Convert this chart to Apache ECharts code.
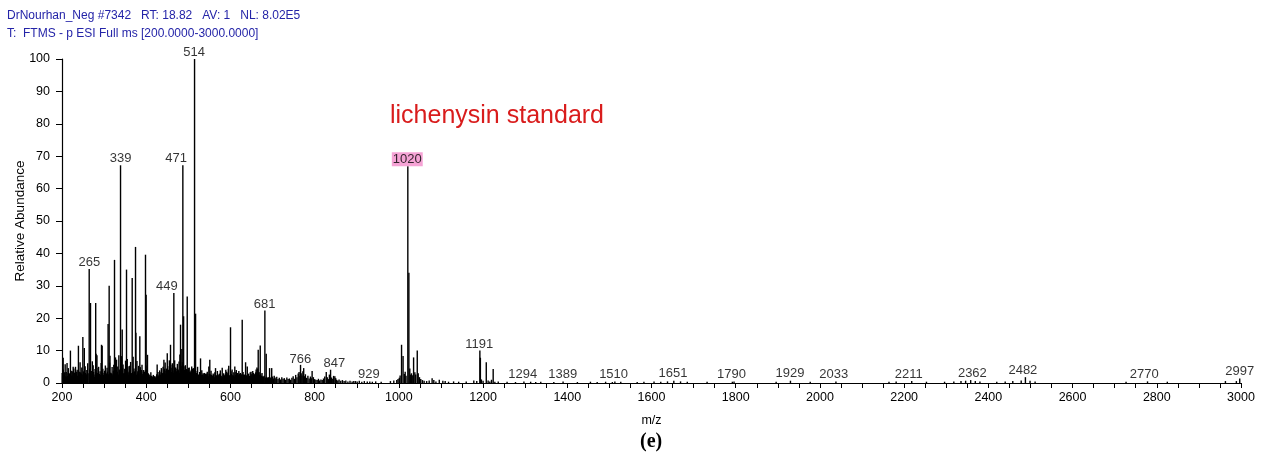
<!DOCTYPE html>
<html>
<head>
<meta charset="utf-8">
<script src="https://cdn.jsdelivr.net/npm/echarts@6/dist/echarts.min.js"></script>
<style>
html,body{margin:0;padding:0;background:#fff;}
#chart{width:1267px;height:457px;}
</style>
</head>
<body>
<div id="chart"></div>
<script>
// ---- Data: [m/z, relative abundance %] ----
// Major peaks
const majorPeaks = [[202.8,7.8],[212,6.2],[220,10],[226.5,5],[232,5],[239,11.5],[249.5,14.2],[253,10.8],[264.6,35.2],[267.7,24.7],[272,6.7],[280,24.7],[281,9],[293.8,11.8],[295.4,11.5],[309.5,18.2],[312,30],[314,8.4],[324.7,38],[329.5,7.2],[335,8.6],[339,67.2],[343,16.5],[353.2,35],[361,5.3],[366.7,32.4],[374.6,42],[375.5,15.5],[384.8,14.4],[398.3,39.6],[399.8,27.2],[403,8.7],[426,5.7],[442,7.2],[450,9.2],[457.7,11.8],[465.6,27.8],[467.5,7],[481.5,18],[484.6,10.5],[487,67.2],[488.8,20.6],[497.4,26.7],[499,4],[514.8,100],[517.2,21.4],[522,5],[529,7.6],[548.7,5.1],[551,7.2],[564.6,4.6],[580.5,4.7],[596,5.3],[600.2,17.2],[610.4,5.1],[628,19.5],[636,6.4],[640,5.1],[666,10.3],[670.8,11.6],[681.8,22.4],[685,9],[693,4.6],[698,4.6],[766.5,5.6],[774,4.6],[794,3.7],[827.6,3.4],[837.8,4.1],[848,2.1],[897,0.6],[925,0.5],[1006.4,11.8],[1010,8.3],[1021.3,66.9],[1023.8,34],[1035,7.9],[1043.7,10],[1046,3],[1079,1.5],[1096,1],[1104.5,0.7],[1178,0.8],[1192.4,10],[1193.6,7.8],[1207.6,6.4],[1224,4.3]];

// Minor peaks forming the dense baseline
const minor200 = [[200.5,3.1],[201.5,2.0],[203,4.2],[204,1.6],[205,2.5],[206.5,3.3],[207.5,5.8],[209,2.1],[210,3.4],[211,1.8],[213.5,2.2],[214.3,3.0],[215,4.6],[216.5,1.9],[217.5,3.0],[219,2.4],[222,3.8],[223,2.1],[224,2.4],[225.5,3.6],[228,4.5],[229,2.0],[230,3.2],[231,1.7],[234,2.8],[235,3.5],[236,4.1],[237.5,2.2],[241,3.5],[242,2.5],[243,6.4],[244.5,3.3],[245.5,2.9],[247,4.8],[248,2.6],[251,3.6],[252,2.3],[255,5.2],[256,3.1],[257.5,2.7],[259,4.0],[260,2.2],[261,6.1],[262,3.0],[266,4.5],[268.5,2.8],[269.5,3.7],[271,2.1],[274,5.5],[275,3.4],[276,2.6],[277,1.9],[278.5,4.3],[282,3.2],[283,8.6],[284,2.4],[285,3.1],[286,4.6],[287,5.0],[288,2.2],[289,2.8],[290.5,3.6],[292,2.5],[293,6.2],[296,3.3],[297,4.4],[298,2.1],[299,2.5]];
const minor300 = [[300,3.1],[301,3.8],[302,2.6],[303,5.4],[304,3.0],[305.5,2.9],[306,2.2],[307,4.7],[308,3.5],[310,2.7],[313,6.3],[315.5,3.2],[316.5,2.4],[318,3.0],[319,4.9],[320,2.3],[321,2.7],[322,3.8],[323,5.6],[326,4.1],[327,7.9],[328,2.9],[330,3.6],[331,3.4],[332.5,5.1],[333.5,2.6],[336,4.2],[337,3.5],[338,2.8],[340,5.2],[341,8.3],[342,3.9],[344,4.6],[345,5.7],[346,2.7],[347,3.1],[348,2.5],[349,4.4],[350,3.2],[351,6.9],[352,3.8],[354,4.4],[355,7.4],[356,2.9],[357,3.3],[358,2.4],[359,5.2],[360,3.6],[362,4.7],[363,6.5],[364,3.1],[365,3.0],[368,3.4],[369,8.1],[370,2.8],[371,4.5],[372,3.6],[377,2.5],[378,6.8],[379,2.9],[380,3.6],[381,2.7],[382,5.3],[383,3.9],[385.5,2.9],[386,4.9],[387,2.6],[388,3.2],[389,4.0],[390,5.6],[391,2.3],[392,2.8],[393,3.3],[394,4.0],[395,2.7],[396,3.5]];
const minor400 = [[401,4.3],[402,5.4],[404,2.1],[405,3.0],[406,2.4],[407,2.6],[408,1.8],[409,1.9],[410,2.3],[411,3.3],[412,1.6],[413,2.2],[414,1.4],[415,1.8],[416,2.0],[417,2.5],[418,1.5],[419,1.7],[420,2.1],[421,2.0],[422,1.6],[423,1.5],[424,1.9],[425,2.7],[427,2.1],[428,3.4],[429,1.8],[430,2.3],[431,2.6],[432,3.9],[433,2.0],[434,2.6],[435,3.3],[436,4.6],[437,2.4],[438,3.1],[439,2.7],[440,5.0],[441,3.2],[443,4.4],[444,3.0],[445,6.3],[446,2.8],[447,3.8],[448,4.3],[449,4.5],[451,5.2],[452,3.6],[453,4.1],[454,3.3],[455,7.0],[456,3.9],[458.5,5.6],[459,3.0],[460,3.4],[461,4.7],[462,6.1],[463,3.8],[464,3.2],[466.5,5.4],[469,2.9],[470,4.8],[471,3.6],[472,3.5],[473,4.4],[474,5.9],[475,3.3],[476,4.2],[477,3.8],[478,6.6],[479,3.1],[480,8.8],[482.5,4.2],[483,5.3],[485.5,3.9],[486,6.4],[490,3.4],[491,4.0],[492,5.2],[493,5.5],[494,3.7],[495,4.1],[496,4.3],[498,3.3],[500,3.0],[501,4.6],[502,4.8],[503,3.5],[504,2.9],[505,3.2],[506,3.6],[507,4.1],[508,5.1],[509,3.0],[510,4.4],[511,3.7],[512,4.6],[513,3.8],[516,3.2],[518,2.6],[519,2.8]];
const minor520 = [[520,3.1],[521,3.7],[523,2.7],[524,2.5],[525,2.2],[526,2.0],[527,3.4],[528,2.8],[530,2.2],[531,2.5],[532,3.9],[533,2.3],[534,2.6],[535,3.0],[536,2.0],[537,2.7],[538,3.1],[539,2.1],[540,2.4],[541,2.9],[542,1.8],[543,2.6],[544,2.9],[545,3.5],[546,2.2],[547,2.1],[549.5,2.8],[552,2.7],[553,1.9],[554,3.8],[555,2.5],[556,2.3],[557,2.0],[558,2.2],[559,2.9],[560,2.6],[561,1.8],[562,1.7],[563,3.3],[566,2.1],[567,2.4],[568,1.9],[569,3.7],[570,2.2],[571,2.6],[572,2.0],[573,1.8],[574,2.9],[575,2.6],[576,3.9],[577,2.1],[578,2.2],[579,1.7],[582,1.9],[583,2.4],[584,3.0],[585,2.0],[586,2.4],[587,1.8],[588,2.7],[589,4.1],[590,3.1],[591,3.5],[592,2.0],[593,2.6],[594,3.2],[595,4.4],[597,2.4],[598,2.3],[599,2.0],[601.5,3.6],[602,2.8],[603,2.6],[604,4.2],[605,2.1],[606,2.5],[607,2.1],[608,3.3],[609,2.0],[612,2.5],[613,3.4],[614,4.0],[615,2.7],[616,2.2],[617,3.1],[618,2.6],[619,2.4],[620,3.7],[621,2.0],[622,2.9],[623,2.3],[624,3.1],[625,1.9],[626,2.7],[627,2.4],[629.5,1.8],[630,3.4],[631,2.6],[632,2.0],[633,2.6],[634,2.2],[635,1.8],[637,1.7],[638,2.4],[639,1.6],[641,1.6],[642,2.1],[643,2.9],[644,1.9],[645,2.2],[646,1.8],[647,3.3],[648,2.2],[649,3.5],[650,2.4],[651,2.8],[652,2.1],[653,3.7],[654,2.4],[655,3.1],[656,2.0],[657,2.7],[658,2.6],[659,2.2],[660,3.3],[661,4.2],[662,3.0],[663,4.8],[664,3.2],[665,4.4],[667.5,3.1],[668,3.4],[669,2.5],[672,2.7],[673,2.2],[674,2.1],[675,3.1],[676,2.0],[677,1.8],[678,2.0],[679,1.4],[680,2.2],[683,1.7],[684,1.3],[686,1.9],[687,1.2],[688,1.6],[689,1.1],[690,1.8],[691,1.3],[692,1.5],[694,1.0],[695,1.7],[696,1.2],[697,1.4],[699,1.0]];
const minor700 = [[700,2.0],[702,1.4],[704,2.2],[706,1.7],[708,1.3],[710,1.9],[713,1.2],[716,1.6],[719,1.1],[722,1.8],[725,1.3],[728,1.5],[731,1.0],[734,1.7],[737,1.2],[740,1.4],[743,1.0],[746,1.6],[749,2.1],[752,1.3],[755,2.5],[758,1.8],[761,2.9],[763,3.4],[765,2.2],[768,3.0],[770,2.3],[772,3.6],[776,2.1],[778,2.7],[781,1.6],[784,2.2],[787,1.4],[790,2.0],[792,1.5],[797,1.8],[800,1.2],[803,1.0],[806,0.9],[809,1.3],[812,0.8],[815,1.1],[818,0.9],[821,1.4],[824,2.0],[830,1.8],[833,1.2],[835,2.6],[840,1.7],[843,1.3],[845,2.2],[850,1.5],[852,1.0],[855,0.8],[858,1.1],[862,0.7],[866,0.9],[870,0.6],[874,0.8],[879,0.5],[884,0.7],[889,0.5],[893,0.6],[901,0.5],[906,0.7],[912,0.4],[918,0.6],[931,0.5],[937,0.4],[945,0.5],[958,0.4],[980,0.6],[988,0.8],[995,0.9],[998,1.2],[1001,1.6],[1003,2.3],[1013,2.8],[1015,3.5],[1017,2.2],[1026,4.5],[1028,2.6],[1030,3.0],[1033,2.4],[1038,3.3],[1040,2.6],[1049,1.8],[1052,1.2],[1056,0.9],[1060,0.7],[1066,0.6],[1072,0.8],[1083,0.9],[1088,0.5],[1110,0.6],[1118,0.4],[1130,0.5],[1142,0.4],[1160,0.5],[1185,0.6],[1196,1.1],[1200,0.7],[1212,0.8],[1216,0.5],[1220,1.0],[1228,0.4],[1236,0.5]];

// Small peaks above m/z 1250
const highPeaks = [[1257,0.4],[1277,0.3],[1297,0.5],[1313,0.4],[1325,0.3],[1337,0.4],[1368,0.3],[1390,0.5],[1424,0.3],[1455,0.4],[1471,0.3],[1491,0.4],[1507,0.3],[1513,0.5],[1527,0.4],[1566,0.3],[1582,0.4],[1606,0.5],[1622,0.4],[1638,0.5],[1653,0.7],[1669,0.5],[1685,0.4],[1732,0.4],[1792,0.4],[1796,0.5],[1896,0.4],[1930,0.7],[1977,0.4],[2038,0.5],[2164,0.4],[2181,0.5],[2218,0.6],[2253,0.4],[2296,0.4],[2318,0.5],[2335,0.6],[2346,0.7],[2358,0.9],[2369,0.6],[2380,0.5],[2420,0.4],[2440,0.5],[2458,0.6],[2478,0.8],[2488,1.8],[2499,0.7],[2511,0.5],[2727,0.4],[2778,0.5],[2825,0.4],[2963,0.6],[2989,0.6],[2997,1.4]];

// Peak annotations
const labelMz = [265,339,449,471,514,681,766,847,929,1020,1191,1294,1389,1510,1651,1790,1929,2033,2211,2362,2482,2770,2997];
const labelAbund = [35.2,67.2,27.8,67.2,100,22.4,5.3,4.1,0.6,66.9,10,0.5,0.5,0.5,0.8,0.5,0.8,0.5,0.5,1.1,1.8,0.5,1.5];
const labelText = ['265','339','449','471','514','681','766','847','929','1020','1191','1294','1389','1510','1651','1790','1929','2033','2211','2362','2482','2770','2997'];

// Axis settings
const xMin = 200, xMax = 3000, xStep = 200;
const yMin = 0, yMax = 100, yStep = 10;

// ---- Build ----
const stickData = [].concat(minor200, minor300, minor400, minor520, minor700, majorPeaks, highPeaks);

function renderStick(params, api) {
  const x = api.value(0), y = api.value(1);
  const top = api.coord([x, y]);
  const base = api.coord([x, 0]);
  return {
    type: 'line',
    shape: { x1: top[0], y1: top[1], x2: base[0], y2: base[1] },
    style: { stroke: '#000', lineWidth: 1.4 }
  };
}

const FONT = 'Liberation Sans, Arial, sans-serif';
const chart = echarts.init(document.getElementById('chart'), null, { renderer: 'canvas' });
chart.setOption({
  animation: false,
  backgroundColor: '#fff',
  grid: { left: 62, right: 26, top: 59, bottom: 74, containLabel: false, outerBoundsMode: 'none' },
  xAxis: {
    type: 'value', min: xMin, max: xMax, interval: xStep,
    name: 'm/z', nameLocation: 'middle', nameGap: 31, nameMoveOverlap: false,
    nameTextStyle: { fontFamily: FONT, fontSize: 12.5, color: '#000' },
    axisLine: { show: true, onZero: false, lineStyle: { color: '#000', width: 1.2 } },
    axisTick: { show: true, length: 5, lineStyle: { color: '#000' } },
    minorTick: { show: true, splitNumber: 4, length: 5, lineStyle: { color: '#000' } },
    axisLabel: { fontFamily: FONT, fontSize: 12.5, color: '#000', margin: 8, formatter: v => String(v) },
    splitLine: { show: false }
  },
  yAxis: {
    type: 'value', min: yMin, max: yMax, interval: yStep,
    name: 'Relative Abundance', nameLocation: 'middle', nameGap: 35, nameMoveOverlap: false,
    nameTextStyle: { fontFamily: FONT, fontSize: 13.5, color: '#000' },
    axisLine: { show: true, lineStyle: { color: '#000', width: 1.2 } },
    axisTick: { show: true, length: 6, lineStyle: { color: '#000' } },
    axisLabel: { fontFamily: FONT, fontSize: 12.5, color: '#000', margin: 12, formatter: v => String(v) },
    splitLine: { show: false }
  },
  series: [
    {
      type: 'custom',
      renderItem: renderStick,
      data: stickData,
      encode: { x: 0, y: 1 },
      z: 2
    },
    {
      type: 'scatter',
      symbolSize: 0,
      data: labelMz.map((m, i) => ({
        value: [m, labelAbund[i]],
        label: labelText[i] === '1020' ? { backgroundColor: '#f28ccb', padding: [1, 1, 0, 1] } : {}
      })),
      label: {
        show: true, position: 'top', distance: 0,
        fontFamily: FONT, fontSize: 13, color: '#000',
        formatter: p => labelText[p.dataIndex]
      },
      z: 3
    }
  ],
  graphic: [
    { type: 'text', left: 7, top: 10, style: { text: 'DrNourhan_Neg #7342   RT: 18.82   AV: 1   NL: 8.02E5', font: '12px ' + FONT, fill: '#2424a8' } },
    { type: 'text', left: 7, top: 28, style: { text: 'T:  FTMS - p ESI Full ms [200.0000-3000.0000]', font: '12px ' + FONT, fill: '#2424a8' } },
    { type: 'text', left: 390, top: 104, style: { text: 'lichenysin standard', font: '25px ' + FONT, fill: '#d91c1c' } },
    { type: 'text', left: 640, top: 432, style: { text: '(e)', font: 'bold 20px Liberation Serif, Times New Roman, serif', fill: '#000' } }
  ]
});
</script>
</body>
</html>
